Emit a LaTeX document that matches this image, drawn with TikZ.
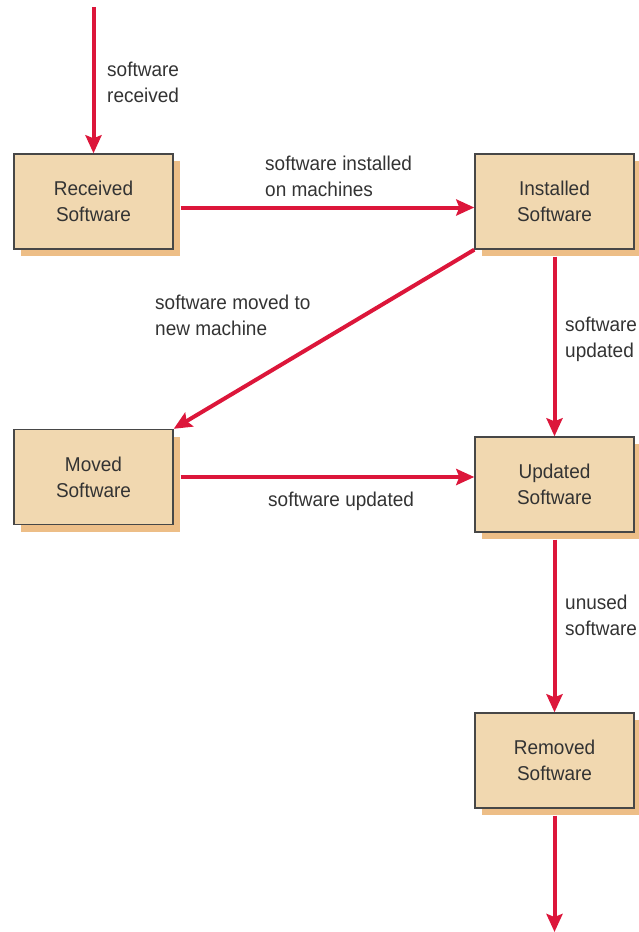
\documentclass[tikz,border=0pt]{standalone}
\usepackage{fontspec}
\setmainfont{Liberation Sans}[FakeStretch=0.95]
\usepackage{tikz}
\usetikzlibrary{positioning,arrows.meta}
\usetikzlibrary{shadows}

\definecolor{flowred}{RGB}{220,22,58}
\definecolor{boxfill}{RGB}{241,216,176}
\definecolor{boxshade}{RGB}{237,190,135}
\definecolor{inkgray}{RGB}{51,51,51}

\begin{document}
\begin{tikzpicture}[x=1pt,y=1pt,
    state/.style={draw=inkgray!90,line width=1.4pt,fill=boxfill,
      minimum width=159pt,minimum height=95pt,align=center,inner sep=0pt,
      text=inkgray,font=\fontsize{20}{26}\selectfont,
      drop shadow={shadow xshift=7pt,shadow yshift=-7pt,fill=boxshade,opacity=1}},
    lbl/.style={anchor=west,align=left,inner sep=0pt,text=inkgray,
      font=\fontsize{20}{26}\selectfont},
    flow/.style={draw=flowred,line width=4pt,
      -{Stealth[length=18pt,width=16pt,inset=3pt]}}]
  \useasboundingbox (0,0) rectangle (638,-932);
  % states
  \node[state] (rec) at (93.5,-201.5) {Received\\Software};
  \node[state] (inst) at (554.5,-201.5) {Installed\\Software};
  \node[state] (moved) at (93.5,-477) {Moved\\Software};
  \node[state] (upd) at (554.5,-484.5) {Updated\\Software};
  \node[state] (rem) at (554.5,-760.5) {Removed\\Software};
  \coordinate (start) at (93.5,-7);
  \coordinate (stop) at (554.5,-932);
  % transitions
  \draw[flow] (start) -- (rec.north);
  \draw[flow] ([xshift=7pt,yshift=-6pt]rec.east) -- ([yshift=-6pt]inst.west);
  \draw[flow] (inst.south west) -- (moved.north east);
  \draw[flow] ([yshift=-7pt]inst.south) -- (upd.north);
  \draw[flow] ([xshift=7pt]moved.east) -- (moved.east -| upd.west);
  \draw[flow] ([yshift=-7pt]upd.south) -- (rem.north);
  \draw[flow] ([yshift=-7pt]rem.south) -- (stop);
  % labels
  \node[lbl] (l1) at (107,-82) {software\\received};
  \node[lbl] (l2) at (265,-176) {software installed\\on machines};
  \node[lbl] (l3) at (155,-315) {software moved to\\new machine};
  \node[lbl] (l4) at (565,-339) {software\\updated};
  \node[lbl] (l5) at (268,-501) {software updated};
  \node[lbl] (l6) at (565,-615) {unused\\software};
\end{tikzpicture}
\end{document}
